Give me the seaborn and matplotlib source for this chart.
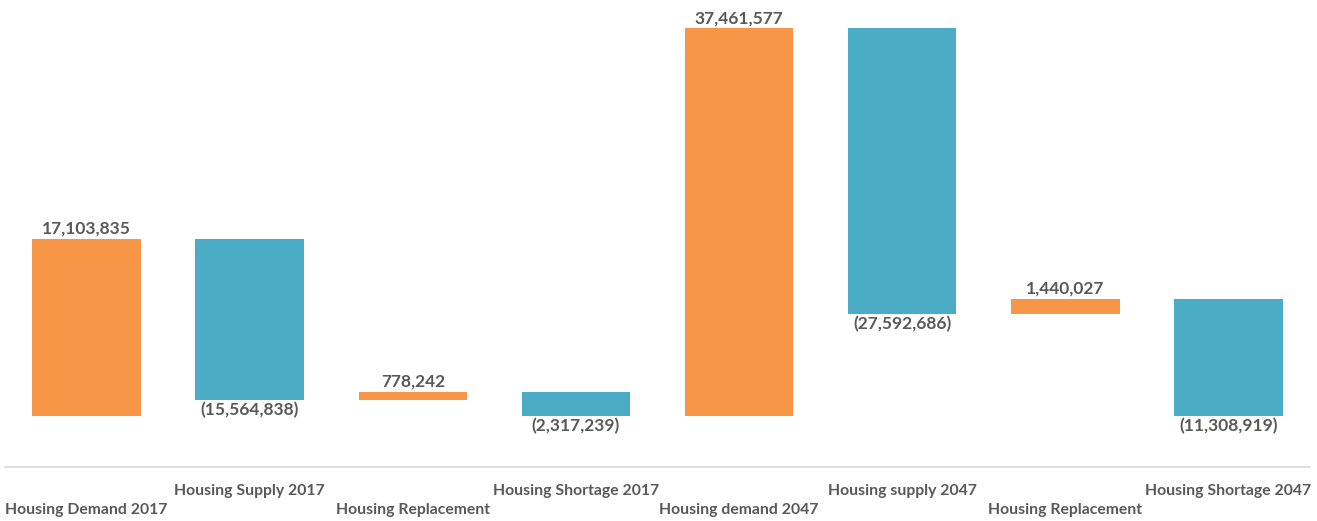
import numpy as np
import pandas as pd
import matplotlib
matplotlib.use("Agg")
import matplotlib.pyplot as plt
import seaborn as sns

# ---- data ----
categories = ["Housing Demand 2017", "Housing Supply 2017", "Housing Replacement",
              "Housing Shortage 2017", "Housing demand 2047", "Housing supply 2047",
              "Housing Replacement", "Housing Shortage 2047"]
values = [17103835, -15564838, 778242, -2317239, 37461577, -27592686, 1440027, -11308919]
kinds = ["total", "delta", "delta", "result", "total", "delta", "delta", "result"]
colors_by_kind = {"total": "#F79646", "delta_pos": "#F79646", "delta_neg": "#4BACC6", "result": "#4BACC6"}

# ---- waterfall geometry derived from values ----
bottoms, heights, tops, lows = [], [], [], []
running = 0.0
for v, k in zip(values, kinds):
    if k == "total":
        b, h = 0.0, v
        running = v
    elif k == "result":
        b, h = 0.0, abs(v)
    else:
        new = running + v
        b, h = min(running, new), abs(v)
        running = new
    bottoms.append(b); heights.append(h)
    tops.append(b + h); lows.append(b)

keys = [f"{i}_{c}" for i, c in enumerate(categories)]
bar_colors = []
for v, k in zip(values, kinds):
    if k == "delta":
        bar_colors.append(colors_by_kind["delta_pos" if v > 0 else "delta_neg"])
    else:
        bar_colors.append(colors_by_kind[k])

df = pd.DataFrame({"key": keys, "height": heights})

sns.set_theme(style="white")
plt.rcParams["font.family"] = ["Lato", "DejaVu Sans"]
text_color = "#595959"

fig = plt.figure(figsize=(13.17, 5.21), dpi=100)
ax = fig.add_axes([5 / 1317, (521 - 467) / 521, 1305 / 1317, (467 - 8) / 521])

sns.barplot(data=df, x="key", y="height", order=keys, bottom=bottoms,
            width=0.665, color="#4BACC6", ax=ax, errorbar=None, saturation=1)
for p, c in zip(ax.patches, bar_colors):
    p.set_facecolor(c)
    p.set_edgecolor("none")

ax.set_ylim(-4.93e6, 39.42e6)
ax.set_xlim(-0.5, len(keys) - 0.5)

for s in ["top", "left", "right"]:
    ax.spines[s].set_visible(False)
ax.spines["bottom"].set_color("#D9D9D9")
ax.spines["bottom"].set_linewidth(1.2)

for i, (v, t, lo) in enumerate(zip(values, tops, lows)):
    if v >= 0:
        ax.annotate(f"{v:,}", (i, t), xytext=(0, 1.5), textcoords="offset points",
                    ha="center", va="bottom", fontsize=12.5, fontweight="bold", color=text_color)
    else:
        ax.annotate(f"({abs(v):,})", (i, lo), xytext=(0, -1.5), textcoords="offset points",
                    ha="center", va="top", fontsize=12.5, fontweight="bold", color=text_color)

ax.set_yticks([])
ax.set_xlabel(""); ax.set_ylabel("")
ax.set_xticks(range(len(keys)))
ax.tick_params(axis="x", length=0, pad=12)
ax.set_xticklabels([("\n" + c) if i % 2 == 0 else c for i, c in enumerate(categories)])
for lbl in ax.get_xticklabels():
    lbl.set_fontweight("bold")
    lbl.set_fontsize(11.3)
    lbl.set_color(text_color)
    lbl.set_linespacing(1.45)

fig.savefig("out.png", dpi=100)
